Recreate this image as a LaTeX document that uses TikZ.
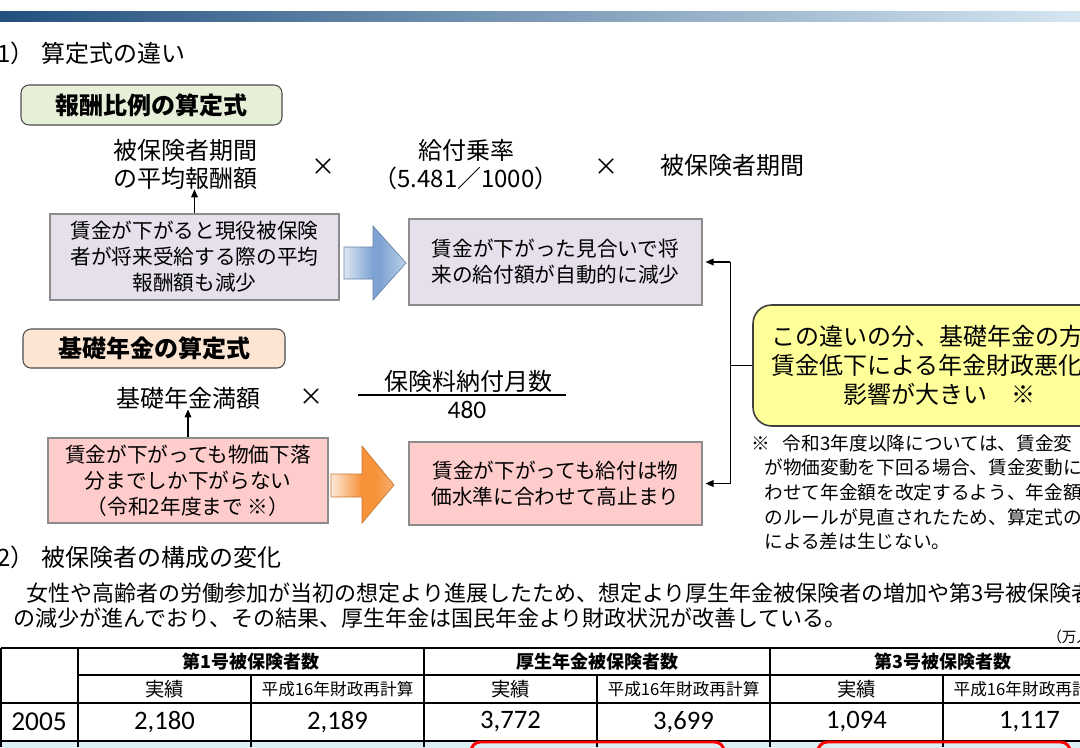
\documentclass[tikz,border=0pt]{standalone}
\usepackage{fontspec}
\setmainfont{Noto Sans CJK JP}
\newfontfamily\numfont{Carlito}
\usetikzlibrary{arrows.meta}

\definecolor{barleft}{HTML}{22507F}
\definecolor{barmid}{HTML}{4BAAC4}
\definecolor{barright}{HTML}{D6E6F1}
\definecolor{lavfill}{HTML}{E5E0EC}
\definecolor{pinkfill}{HTML}{FFCCCC}
\definecolor{greenfill}{HTML}{E6F0D9}
\definecolor{peachfill}{HTML}{FCE5D3}
\definecolor{notefill}{HTML}{FFFF99}
\definecolor{rowfill}{HTML}{DAEEF3}
\definecolor{boxline}{HTML}{8C8C8C}
\definecolor{bluelight}{HTML}{DCE6F2}
\definecolor{bluedark}{HTML}{7EA3D2}
\definecolor{bluetip}{HTML}{BBD0EA}
\definecolor{orangelight}{HTML}{FDE9D9}
\definecolor{orangedark}{HTML}{F7923A}
\definecolor{orangetip}{HTML}{F8AE6E}

\pgfdeclarehorizontalshading{blueflow}{100bp}{color(0bp)=(bluelight); color(25bp)=(bluelight); color(48bp)=(bluedark); color(54bp)=(bluedark); color(75bp)=(bluetip); color(100bp)=(bluetip)}
\pgfdeclarehorizontalshading{orangeflow}{100bp}{color(0bp)=(orangelight); color(25bp)=(orangelight); color(49bp)=(orangedark); color(60bp)=(orangedark); color(75bp)=(orangetip); color(100bp)=(orangetip)}

\newcommand\pxfont[2]{\fontsize{#1pt}{#2pt}\selectfont}

\begin{document}
\begin{tikzpicture}[x=0.75pt, y=-0.75pt,
  every node/.style={inner sep=0pt, align=center},
  titlebox/.style={draw=black!70, line width=0.8pt, rounded corners=6pt, font=\bfseries\pxfont{18}{22}},
  lavbox/.style={draw=boxline, line width=1.3pt, fill=lavfill, font=\pxfont{15.5}{19.5}},
  pinkbox/.style={lavbox, fill=pinkfill},
  formula/.style={font=\pxfont{18}{21}},
  link/.style={-{Triangle[length=6pt,width=5pt]}, line width=0.9pt},
  head/.style={font=\bfseries\pxfont{13.5}{16}},
  subhead/.style={font=\pxfont{13.5}{16}},
  num/.style={font=\numfont\pxfont{20}{22}}]

\useasboundingbox (0,0) rectangle (1080,747);
\clip (0,0) rectangle (1080,747);

% Header bar
\shade[left color=barleft, middle color=barmid, right color=barright] (0,11) rectangle (1080,21);

% (1) Formulas
\node[anchor=west, font=\pxfont{18}{21}] (sec1) at (-3,53) {1）\hspace{0.3em}算定式の違い};

\node[titlebox, fill=greenfill, minimum width=195.75pt, minimum height=30pt] (hoshu) at (151.5,105) {報酬比例の算定式};
\node[formula] (avgpay) at (185,164) {被保険者期間\\の平均報酬額};
\node[formula] (times1) at (323,167) {×};
\node[formula] (rate) at (466,165) {給付乗率\\（5.481／1000）};
\node[formula] (times2) at (606,167) {×};
\node[formula] (period) at (732,165) {被保険者期間};

\node[lavbox, minimum width=216.75pt, minimum height=64.5pt] (paybox) at (194.5,257) {賃金が下がると現役被保険\\者が将来受給する際の平均\\報酬額も減少};
\node[lavbox, minimum width=219.75pt, minimum height=64.5pt] (autobox) at (555.5,262) {賃金が下がった見合いで将\\来の給付額が自動的に減少};
\draw[link] (paybox.north) -- (paybox.north |- avgpay.south);
\shadedraw[draw=bluedark!80!black, line width=0.5pt, shading=blueflow]
  (344,247) -- (373,247) -- (373,226) -- (406,263) -- (373,300) -- (373,279) -- (344,279) -- cycle;

\node[titlebox, fill=peachfill, minimum width=196.5pt, minimum height=29.25pt] (kiso) at (154,348.5) {基礎年金の算定式};
\node[formula] (fullamt) at (188,398) {基礎年金満額};
\node[formula] (times3) at (311,397) {×};
\node[formula] (months) at (468,381) {保険料納付月数};
\node[font=\numfont\pxfont{19}{20}] (denom) at (467,410) {480};
\draw[line width=1pt] ([xshift=-19pt,yshift=-2pt]months.south west) -- ([xshift=10pt,yshift=-2pt]months.south east);

\node[pinkbox, minimum width=210pt, minimum height=63.75pt] (pricebox) at (188,480.5) {賃金が下がっても物価下落\\分までしか下がらない\\（令和2年度まで ※）};
\node[pinkbox, minimum width=219.75pt, minimum height=62.25pt] (highbox) at (555.5,483.5) {賃金が下がっても給付は物\\価水準に合わせて高止まり};
\draw[link] (pricebox.north -| fullamt) -- (fullamt.south);
\shadedraw[draw=orangedark!80!black, line width=0.5pt, shading=orangeflow]
  (331,474) -- (362,474) -- (362,446) -- (394,485) -- (362,523) -- (362,497) -- (331,497) -- cycle;

% Note box
\node[draw=black!75, line width=1.2pt, fill=notefill, rounded corners=14pt, minimum width=279pt, minimum height=90.75pt, font=\pxfont{18}{21.75}] (gap) at (939,365.5) {この違いの分、基礎年金の方が\\賃金低下による年金財政悪化の\\影響が大きい　※};
\draw[line width=0.9pt] (gap.west) -- ++(-22,0) coordinate (split);
\draw[line width=0.9pt] (split |- autobox.east) -- (split |- highbox.east);
\draw[link, shorten >=2pt] (split |- autobox.east) -- (autobox.east);
\draw[link, shorten >=2pt] (split |- highbox.east) -- (highbox.east);

\node[anchor=north west, align=left, font=\pxfont{14}{18.5}] (rule) at (751,434) {※\hspace{0.7em}令和3年度以降については、賃金変\\\hspace{0.7em}が物価変動を下回る場合、賃金変動に\\\hspace{0.7em}わせて年金額を改定するよう、年金額\\\hspace{0.7em}のルールが見直されたため、算定式の\\\hspace{0.7em}による差は生じない。};

% (2) Insured persons
\node[anchor=west, font=\pxfont{18}{21}] (sec2) at (-3,557) {2）\hspace{0.3em}被保険者の構成の変化};
\node[anchor=north west, align=left, font=\pxfont{16.5}{18.75}] (text) at (13,583) {\hspace{0.6em}女性や高齢者の労働参加が当初の想定より進展したため、想定より厚生年金被保険者の増加や第3号被保険者\\の減少が進んでおり、その結果、厚生年金は国民年金より財政状況が改善している。};
\node[anchor=west, font=\pxfont{11}{12}] (unit) at (1047,637) {（万人）};

% Table
\fill[rowfill] (0,741) rectangle (1080,760);
\draw[line width=1.4pt] (1,648) -- (1080,648);
\draw[line width=1pt] (78,675) -- (1080,675);
\draw[line width=1.2pt] (1,703) -- (1080,703);
\draw[line width=1.2pt] (1,741) -- (1080,741);
\draw[line width=1.4pt] (1,648) -- (1,747);
\foreach \x in {78,424,770}
  \draw[line width=1pt] (\x,648) -- (\x,747);
\foreach \x in {251,597,943}
  \draw[line width=1pt] (\x,675) -- (\x,747);

\foreach \x/\t in {251/第1号被保険者数, 597/厚生年金被保険者数, 943/第3号被保険者数}
  \node[head] at (\x,662) {\t};
\foreach \x in {164.5,510.5,856.5}
  \node[subhead, font=\pxfont{14.5}{16}] at (\x,689) {実績};
\foreach \x in {337.5,683.5,1029.5}
  \node[subhead, font=\pxfont{12.5}{14}] at (\x,689) {平成16年財政再計算};

\node[num, font=\numfont\pxfont{20.5}{22}] (y2005) at (39,722) {2005};
\foreach \x/\v in {164.5/{2,180}, 337.5/{2,189}, 510.5/{3,772}, 683.5/{3,699}, 856.5/{1,094}, 1029.5/{1,117}}
  \node[num] at (\x,722) {\v};

\draw[red, line width=2.2pt, rounded corners=7pt] (471,742) rectangle (724,790);
\draw[red, line width=2.2pt, rounded corners=7pt] (818,742) rectangle (1070,790);
\end{tikzpicture}
\end{document}
